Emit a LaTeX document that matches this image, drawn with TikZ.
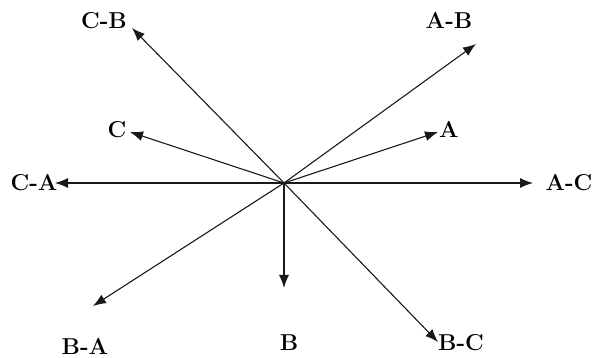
\documentclass[tikz,border=0pt]{standalone}
\usepackage{fontspec}
\usetikzlibrary{arrows.meta}

\begin{document}
\begin{tikzpicture}[
    x=1pt, y=1pt,
    vec/.style={-{Latex[length=13pt, width=10pt]}, line width=1.1pt, black!90},
    lbl/.style={font=\fontsize{23}{27}\selectfont\bfseries, inner sep=1pt}
]
\useasboundingbox (0, 0) rectangle (592, 358);

% Origin
\coordinate (o) at (284, 175);

% Arrow tips
\coordinate (tCB) at (132, 330);
\coordinate (tAB) at (476, 314);
\coordinate (tC) at (130, 226);
\coordinate (tA) at (438, 226);
\coordinate (tCA) at (55, 175);
\coordinate (tAC) at (533, 175);
\coordinate (tBA) at (93, 52);
\coordinate (tB) at (284, 70);
\coordinate (tBC) at (438, 16);

% Labels
\node[lbl] (CB) at (104, 337) {C-B};
\node[lbl] (AB) at (449, 338) {A-B};
\node[lbl] (C) at (117, 228) {C};
\node[lbl] (A) at (449, 229) {A};
\node[lbl] (CA) at (34, 175) {C-A};
\node[lbl] (AC) at (569, 175) {A-C};
\node[lbl] (BA) at (85, 12) {B-A};
\node[lbl] (B) at (289, 15) {B};
\node[lbl] (BC) at (461, 15) {B-C};

% Vectors
\draw[vec] (o) -- (tCB);
\draw[vec] (o) -- (tAB);
\draw[vec] (o) -- (tC);
\draw[vec] (o) -- (tA);
\draw[vec] (o) -- (tCA);
\draw[vec] (o) -- (tAC);
\draw[vec] (o) -- (tBA);
\draw[vec] (o) -- (tB);
\draw[vec] (o) -- (tBC);

\end{tikzpicture}
\end{document}
